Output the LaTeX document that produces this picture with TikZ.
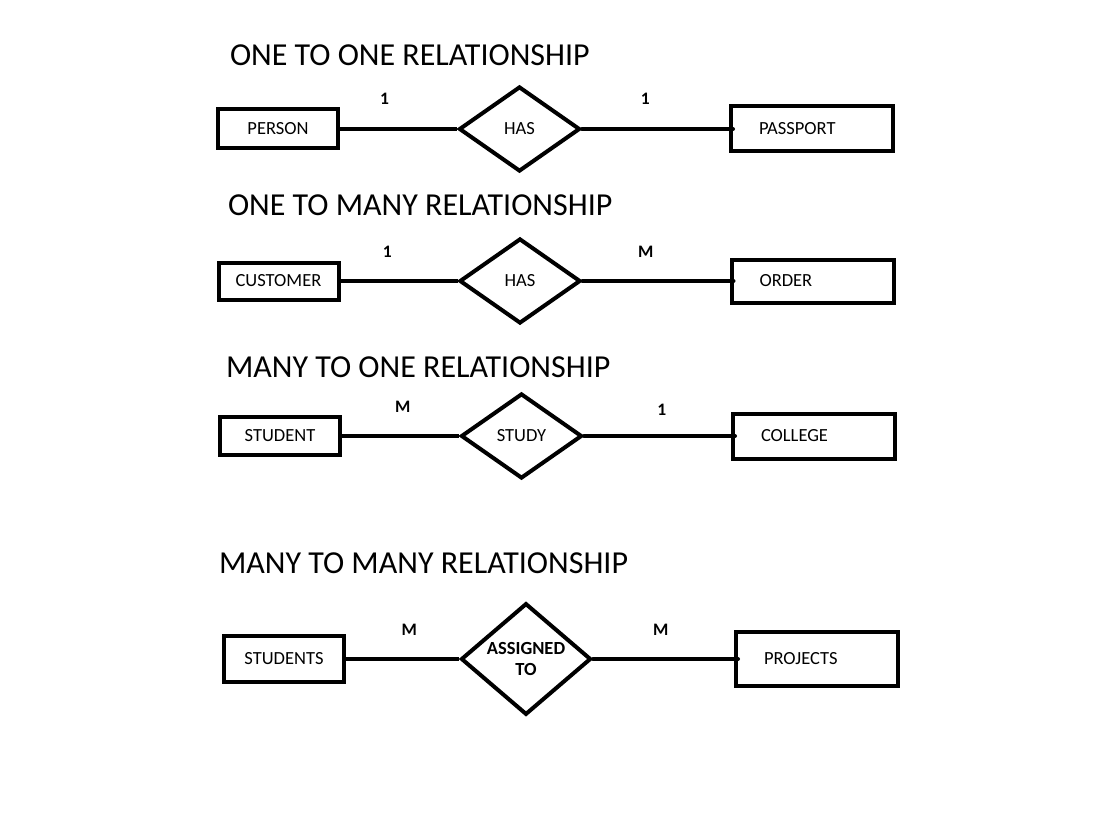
\documentclass[tikz,border=0pt]{standalone}
\usepackage{fontspec}
\setmainfont{Carlito}
\usetikzlibrary{shapes.geometric,positioning}
\newcommand\headfont{\fontsize{32}{38}\selectfont}
\newcommand\boxfont{\fontsize{18.5}{23}\selectfont}
\newcommand\cardfont{\fontsize{17.5}{20}\selectfont\bfseries}
\begin{document}
\begin{tikzpicture}[x=1pt, y=1pt, line width=4pt, node distance=117pt,
	entity/.style={draw, rectangle, minimum width=120pt, minimum height=39pt, inner sep=0pt, font=\boxfont},
	entityr/.style={entity, minimum width=162pt, minimum height=45pt, text width=106pt, inner xsep=28pt, align=left},
	relation/.style={draw, diamond, minimum width=121pt, minimum height=85pt, inner sep=0pt, font=\boxfont},
	card/.style={font=\cardfont, inner sep=0pt, above=22pt},
	heading/.style={font=\headfont, anchor=base west, inner sep=0pt}]
					\useasboundingbox (0,0) rectangle (1104,-832);
					
					% one to one
					\node [heading] (title1) at (228,-66) {ONE TO ONE RELATIONSHIP};
					\node [entity] (person) at (278,-129) {PERSON};
					\node [relation, right=of person] (has1) {HAS};
					\node [entityr, right=147pt of has1] (passport) {PASSPORT};
					
					\draw (person) -- node [card, pos=0.38] {1} (has1);
					\draw [line cap=round, shorten >=-4pt] (has1) -- node [card, pos=0.43] {1} (passport);
					
					% one to many
					\node [heading] (title2) at (226,-215) {ONE TO MANY RELATIONSHIP};
					\node [entity, minimum height=37pt] (customer) at (278.5,-281) {CUSTOMER};
					\node [relation, right=of customer] (has2) {HAS};
					\node [entityr, minimum height=43pt, right=147pt of has2] (order) {ORDER};
					
					\draw (customer) -- node [card, pos=0.4] {1} (has2);
					\draw [line cap=round, shorten >=-4pt] (has2) -- node [card, pos=0.43] {M} (order);
					
					% many to one
					\node [heading] (title3) at (224,-377) {MANY TO ONE RELATIONSHIP};
					\node [entity, minimum height=38pt] (student) at (280,-436) {STUDENT};
					\node [relation, right=of student] (study) {STUDY};
					\node [entityr, right=147pt of study] (college) {COLLEGE};
					
					\draw (student) -- node [card, pos=0.52] {M} (study);
					\draw [line cap=round, shorten >=-4pt] (study) -- node [card, pos=0.53, above=19pt] {1} (college);
					
					% many to many
					\node [heading] (title4) at (217,-573) {MANY TO MANY RELATIONSHIP};
					\node [entity, minimum height=46pt] (students) at (284,-659) {STUDENTS};
					\node [relation, minimum width=130pt, minimum height=100pt, font=\boxfont\bfseries, align=center, right=113pt of students] (assigned) {ASSIGNED\\[-2pt]TO};
					\node [entityr, minimum height=54pt, right=141pt of assigned] (projects) {PROJECTS};
					
					\draw (students) -- node [card, pos=0.56] {M} (assigned);
					\draw [line cap=round, shorten >=-4pt] (assigned) -- node [card, pos=0.48] {M} (projects);
				\end{tikzpicture}
\end{document}
